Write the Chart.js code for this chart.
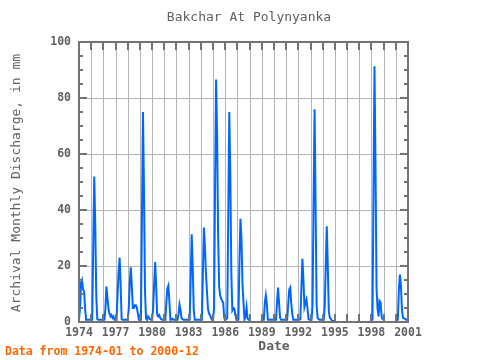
<!DOCTYPE html>
<html><head><meta charset="utf-8">
<script src="https://cdn.jsdelivr.net/npm/chart.js@4/dist/chart.umd.min.js"></script>
<style>html,body{margin:0;padding:0;background:#fff}#wrap{width:480px;height:360px}</style>
</head><body><div id="wrap"><canvas id="c" width="480" height="360"></canvas></div>
<script>
const chartTitle = "Bakchar At Polynyanka";
const yAxisTitle = "Archival Monthly Discharge, in mm";
const xAxisTitle = "Date";
const footerText = "Data from 1974-01 to 2000-12";
const xTickLabels = [1974, 1977, 1980, 1983, 1986, 1989, 1992, 1995, 1998, 2001];
const yTickLabels = [0, 20, 40, 60, 80, 100];

// monthly discharge (mm), Jan..Dec; null = missing
const d1974 = [1, 4.8, 14, 15, 11.6, 11, 4.8, 0.8, 0.8, 0.8, 0.8, 0.8];
const d1975 = [0.8, 0.8, 26.6, 52, 35, 9.5, 1, 0.8, 0.8, 0.8, 0.8, 0.8];
const d1976 = [0.8, 0.8, 4.8, 12.7, 8.6, 4.8, 3, 2, 2.5, 1.5, 2, 0.8];
const d1977 = [0.8, 0.8, 10, 18, 23, 13, 1, 0.8, 0.8, 0.8, 0.8, 0.8];
const d1978 = [0.8, 4.8, 14, 19.5, 13, 5, 5, 6, 6, 5, 3, 0.8];
const d1979 = [0.8, 0.8, 37.8, 75, 47, 11, 1.2, 0.8, 2, 1.5, 1, 0.8];
const d1980 = [0.8, 4.8, 13.5, 21.4, 12.7, 2.6, 2, 2.5, 1.5, 1, 0.8, 0.8];
const d1981 = [0.8, 0.8, 6.9, 12, 13, 7.5, 0.8, 0.8, 1.2, 0.8, 0.8, 0.8];
const d1982 = [0.8, 0.8, 2.7, 6.2, 4.2, 1.3, 1, 0.8, 0.8, 0.8, 0.8, 0.8];
const d1983 = [0.8, 0.8, 16.3, 31.3, 19.6, 4.5, 0.8, 0.8, 0.8, 0.8, 0.8, 0.8];
const d1984 = [0.8, 0.8, 17.3, 33.7, 27, 17.5, 11, 4.8, 3, 2.5, 1.5, 0.8];
const d1985 = [0.8, 5, 49, 86.6, 67, 31, 12.7, 9.5, 8.3, 7.5, 6.9, 1.5];
const d1986 = [0.8, 1, 1.5, 38.7, 75, 52.6, 17.6, 4.2, 5, 4.8, 2.5, 0.8];
const d1987 = [0.8, 0.8, 22, 36.9, 29.8, 13.6, 6.9, 1, 2, 5.2, 1.3, 0.8];
const d1988 = [0.8, null, null, null, null, null, null, null, null, null, null, 0.8];
const d1989 = [0.8, 0.8, 0.8, 6.9, 9.5, 6.2, 0.8, 0.8, 0.8, 0.8, 0.8, 0.8];
const d1990 = [0.8, 0.8, 0.8, 7, 12.3, 6.9, 1.5, 0.8, 0.8, 0.8, 0.8, 0.8];
const d1991 = [0.8, 0.8, 6, 11.6, 12.3, 6.9, 3, 0.8, 0.8, 0.8, 0.8, 0.8];
const d1992 = [0.8, 0.8, 1, 12.3, 22.6, 15.2, 5.4, 6.9, 8.1, 5, 1, 0.8];
const d1993 = [0.8, 0.8, 5.9, 43.5, 76, 41.3, 5.9, 1.5, 1, 0.8, 0.8, 0.8];
const d1994 = [0.8, 0.8, 5.4, 20, 34.2, 20, 4, 1.5, 1.2, 0.5, 0.4, 0.4];
const d1995 = [0.4, 0.4, null, null, null, null, null, null, null, null, null, null];
const d1996 = [null, null, null, null, null, null, null, null, null, null, null, null];
const d1997 = [null, null, null, null, null, null, null, null, null, null, null, 0.8];
const d1998 = [0.8, 0.8, 45.9, 91.3, 55.4, 12.3, 4.8, 2, 7.5, 6.9, 2, 0.8];
const d1999 = [null, null, null, null, null, null, null, null, null, null, null, null];
const d2000 = [0.8, 0.8, 0.8, 11.5, 16.9, 13.5, 4.8, 1.5, 1.3, 1.2, 0.8, 0.8];

const years = [1974,1975,1976,1977,1978,1979,1980,1981,1982,1983,1984,1985,1986,1987,
  1988,1989,1990,1991,1992,1993,1994,1995,1996,1997,1998,1999,2000];
const yearlySeries = [d1974,d1975,d1976,d1977,d1978,d1979,d1980,d1981,d1982,d1983,d1984,
  d1985,d1986,d1987,d1988,d1989,d1990,d1991,d1992,d1993,d1994,d1995,d1996,d1997,d1998,d1999,d2000];

const points = [];
years.forEach((yr, i) => {
  yearlySeries[i].forEach((v, m) => points.push({x: yr + m / 12, y: v}));
});

const FONT = '"DejaVu Sans Mono", "Liberation Mono", monospace';
const TXT = '#606060';

const decor = {
  id: 'decor',
  beforeDatasetsDraw(chart) {
    const ctx = chart.ctx, a = chart.chartArea, xs = chart.scales.x, ys = chart.scales.y;
    ctx.save();
    ctx.strokeStyle = '#b4b4b4';
    ctx.lineWidth = 1;
    ctx.beginPath();
    for (let yr = 1975; yr < 2001; yr++) {
      const px = Math.round(xs.getPixelForValue(yr)) + 0.5;
      ctx.moveTo(px, a.top); ctx.lineTo(px, a.bottom);
    }
    for (let v = 20; v < 100; v += 20) {
      const py = Math.round(ys.getPixelForValue(v)) + 0.5;
      ctx.moveTo(a.left, py); ctx.lineTo(a.right, py);
    }
    ctx.stroke();
    ctx.restore();
  },
  afterDatasetsDraw(chart) {
    const ctx = chart.ctx, a = chart.chartArea, xs = chart.scales.x, ys = chart.scales.y;
    ctx.save();
    ctx.strokeStyle = '#737373';
    ctx.lineWidth = 2;
    ctx.strokeRect(a.left, a.top, a.right - a.left, a.bottom - a.top);
    ctx.beginPath();
    for (let yr = 1975; yr < 2001; yr++) {
      const px = Math.round(xs.getPixelForValue(yr));
      ctx.moveTo(px, a.top); ctx.lineTo(px, a.top + 8);
      ctx.moveTo(px, a.bottom); ctx.lineTo(px, a.bottom - 8);
    }
    for (let v = 5; v < 100; v += 5) {
      const py = Math.round(ys.getPixelForValue(v));
      const len = (v % 20 === 0) ? 8 : 4;
      ctx.moveTo(a.left, py); ctx.lineTo(a.left + len, py);
      ctx.moveTo(a.right, py); ctx.lineTo(a.right - len, py);
    }
    ctx.stroke();

    ctx.fillStyle = TXT;
    ctx.font = 'bold 11.5px ' + FONT;
    ctx.textAlign = 'center';
    ctx.textBaseline = 'middle';
    xTickLabels.forEach(t => ctx.fillText(String(t), xs.getPixelForValue(t), 333));
    ctx.textAlign = 'right';
    yTickLabels.forEach(t => ctx.fillText(String(t), 71, ys.getPixelForValue(t)));

    ctx.font = '13px ' + FONT;
    ctx.textAlign = 'center';
    ctx.fillText(chartTitle, 249, 18);
    ctx.font = 'bold 13px ' + FONT;
    ctx.fillText(xAxisTitle, 274, 347);
    ctx.font = '13px ' + FONT;
    ctx.save();
    ctx.translate(17, 183);
    ctx.rotate(-Math.PI / 2);
    ctx.fillText(yAxisTitle, 0, 0);
    ctx.restore();

    ctx.fillStyle = '#ff6600';
    ctx.font = 'bold 11.5px ' + FONT;
    ctx.textAlign = 'left';
    ctx.fillText(footerText, 5, 352);
    ctx.restore();
  }
};

new Chart(document.getElementById('c'), {
  type: 'line',
  data: { datasets: [{
    data: points,
    borderColor: '#0066ff',
    borderWidth: 2,
    pointRadius: 0,
    tension: 0,
    fill: false,
    spanGaps: false
  }]},
  options: {
    responsive: false,
    animation: false,
    layout: { padding: { left: 79, right: 72, top: 42, bottom: 38 } },
    plugins: { legend: { display: false }, tooltip: { enabled: false }, title: { display: false } },
    scales: {
      x: { type: 'linear', min: 1974, max: 2001, display: false },
      y: { min: 0, max: 100, display: false }
    }
  },
  plugins: [decor]
});
</script></body></html>
